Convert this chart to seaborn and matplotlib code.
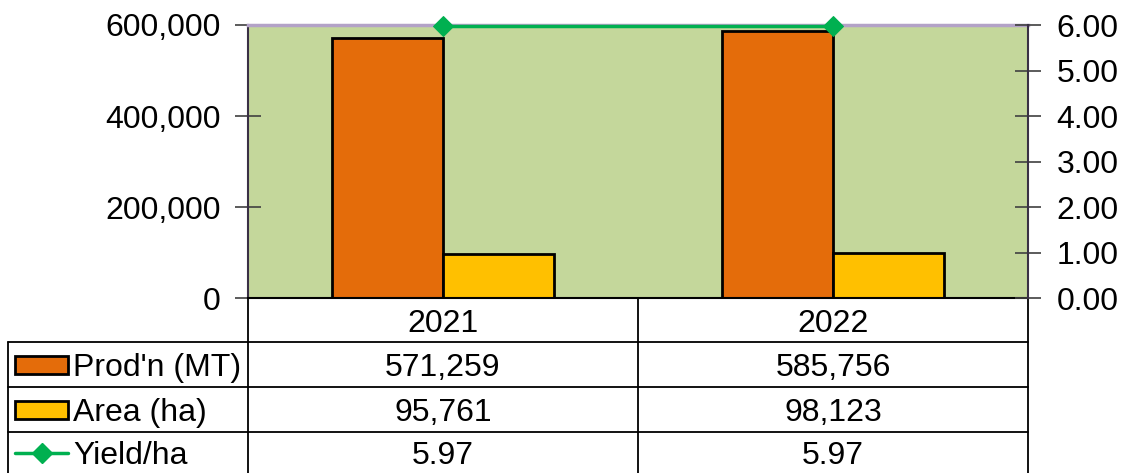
import numpy as np
import pandas as pd
import matplotlib
matplotlib.use("Agg")
import matplotlib.pyplot as plt
import matplotlib.transforms as mtransforms
from matplotlib.patches import Rectangle
from matplotlib.ticker import FuncFormatter
import seaborn as sns

years = ["2021", "2022"]
prod_mt = [571259, 585756]
area_ha = [95761, 98123]
yield_ha = [5.97, 5.97]
series_names = ["Prod'n (MT)", "Area (ha)", "Yield/ha"]

ORANGE = "#E46C0A"
GOLD = "#FFC000"
GREEN = "#00B050"
PLOT_BG = "#C4D79B"
FS = 23

sns.set_style("white")
plt.rcParams["font.family"] = ["Liberation Sans", "DejaVu Sans"]
plt.rcParams["text.color"] = "black"
plt.rcParams["ytick.labelcolor"] = "black"

W, H = 1123, 473
fig = plt.figure(figsize=(W / 100, H / 100), dpi=100)

# plot area box in pixels
L, R, T, B = 248, 1028, 25, 298
ax = fig.add_axes([L / W, 1 - B / H, (R - L) / W, (B - T) / H])
ax.set_facecolor(PLOT_BG)

bars = pd.DataFrame({
    "year": years * 2,
    "series": [series_names[0]] * len(years) + [series_names[1]] * len(years),
    "value": prod_mt + area_ha,
})
sns.barplot(data=bars, x="year", y="value", hue="series", palette=[ORANGE, GOLD],
            width=0.57, gap=0, edgecolor="black", linewidth=2, saturation=1,
            legend=False, ax=ax)
ax.set_xlim(-0.5, len(years) - 0.5)
ax.set_ylim(0, 600000)
ax.set_yticks([0, 200000, 400000, 600000])
ax.yaxis.set_major_formatter(FuncFormatter(lambda v, p: f"{v:,.0f}"))
ax.set_xticks([])
ax.set_xlabel("")
ax.set_ylabel("")
ax.tick_params(axis="y", direction="inout", length=19, width=1.2, color="#404040",
               labelsize=FS, pad=10, labelcolor="black")

ax2 = ax.twinx()
sns.lineplot(x=np.arange(len(years)), y=yield_ha, ax=ax2, color=GREEN, marker="D",
             markersize=10, markeredgecolor=GREEN, linewidth=2.5, clip_on=False)
ax2.set_ylim(0, 6)
ax2.set_yticks(np.arange(0, 7, 1))
ax2.yaxis.set_major_formatter(FuncFormatter(lambda v, p: f"{v:.2f}"))
ax2.tick_params(axis="y", direction="inout", length=19, width=1.2, color="#404040",
                labelsize=FS, pad=11, labelcolor="black")
ax2.set_xticks([])

for sp in ["top", "bottom", "left", "right"]:
    ax2.spines[sp].set_visible(False)
ax2.spines["right"].set_visible(True)
ax2.spines["right"].set_color("#3a3045")
ax2.spines["right"].set_linewidth(1.5)
ax.spines["top"].set_color("#B3A2C7")
ax.spines["top"].set_linewidth(2.5)
ax.spines["left"].set_color("#3a3045")
ax.spines["left"].set_linewidth(1.5)
ax.spines["right"].set_visible(False)
ax.spines["bottom"].set_color("black")
ax.spines["bottom"].set_linewidth(1.5)

# data table under the chart
ov = fig.add_axes([0, 0, 1, 1], zorder=-1)
ov.set_xlim(0, W)
ov.set_ylim(H, 0)
ov.axis("off")
mix = mtransforms.blended_transform_factory(ax.transData, ov.transData)

TL = 8
row_edges = [B, 342, 387, 432, H]
row_mid = [(a + b) / 2 for a, b in zip(row_edges[:-1], row_edges[1:])]

lw = 1.3
for y in row_edges[1:4]:
    ov.plot([TL, R], [y, y], color="black", lw=lw)
ov.plot([TL, TL], [row_edges[1], H], color="black", lw=lw)
for xb in np.arange(len(years) + 1) - 0.5:
    ov.plot([xb, xb], [B, H], color="black", lw=lw, transform=mix, clip_on=False)

for i, yr in enumerate(years):
    ov.text(i, row_mid[0], yr, transform=mix, ha="center", va="center_baseline", fontsize=FS)
    ov.text(i, row_mid[1], f"{prod_mt[i]:,}", transform=mix, ha="center", va="center_baseline", fontsize=FS)
    ov.text(i, row_mid[2], f"{area_ha[i]:,}", transform=mix, ha="center", va="center_baseline", fontsize=FS)
    ov.text(i, row_mid[3], f"{yield_ha[i]:.2f}", transform=mix, ha="center", va="center_baseline", fontsize=FS)

# legend keys inside the table
kx0, kx1 = 15, 68
for r, col in zip([1, 2], [ORANGE, GOLD]):
    ov.add_patch(Rectangle((kx0, row_mid[r] - 9), kx1 - kx0, 18, facecolor=col,
                           edgecolor="black", lw=2))
ov.plot([kx0, kx1], [row_mid[3], row_mid[3]], color=GREEN, lw=2.5)
ov.plot([(kx0 + kx1) / 2], [row_mid[3]], marker="D", color=GREEN, markersize=10)
for r in [1, 2, 3]:
    ov.text(73, row_mid[r], series_names[r - 1], ha="left", va="center_baseline", fontsize=FS)

fig.savefig("out.png", dpi=100)
